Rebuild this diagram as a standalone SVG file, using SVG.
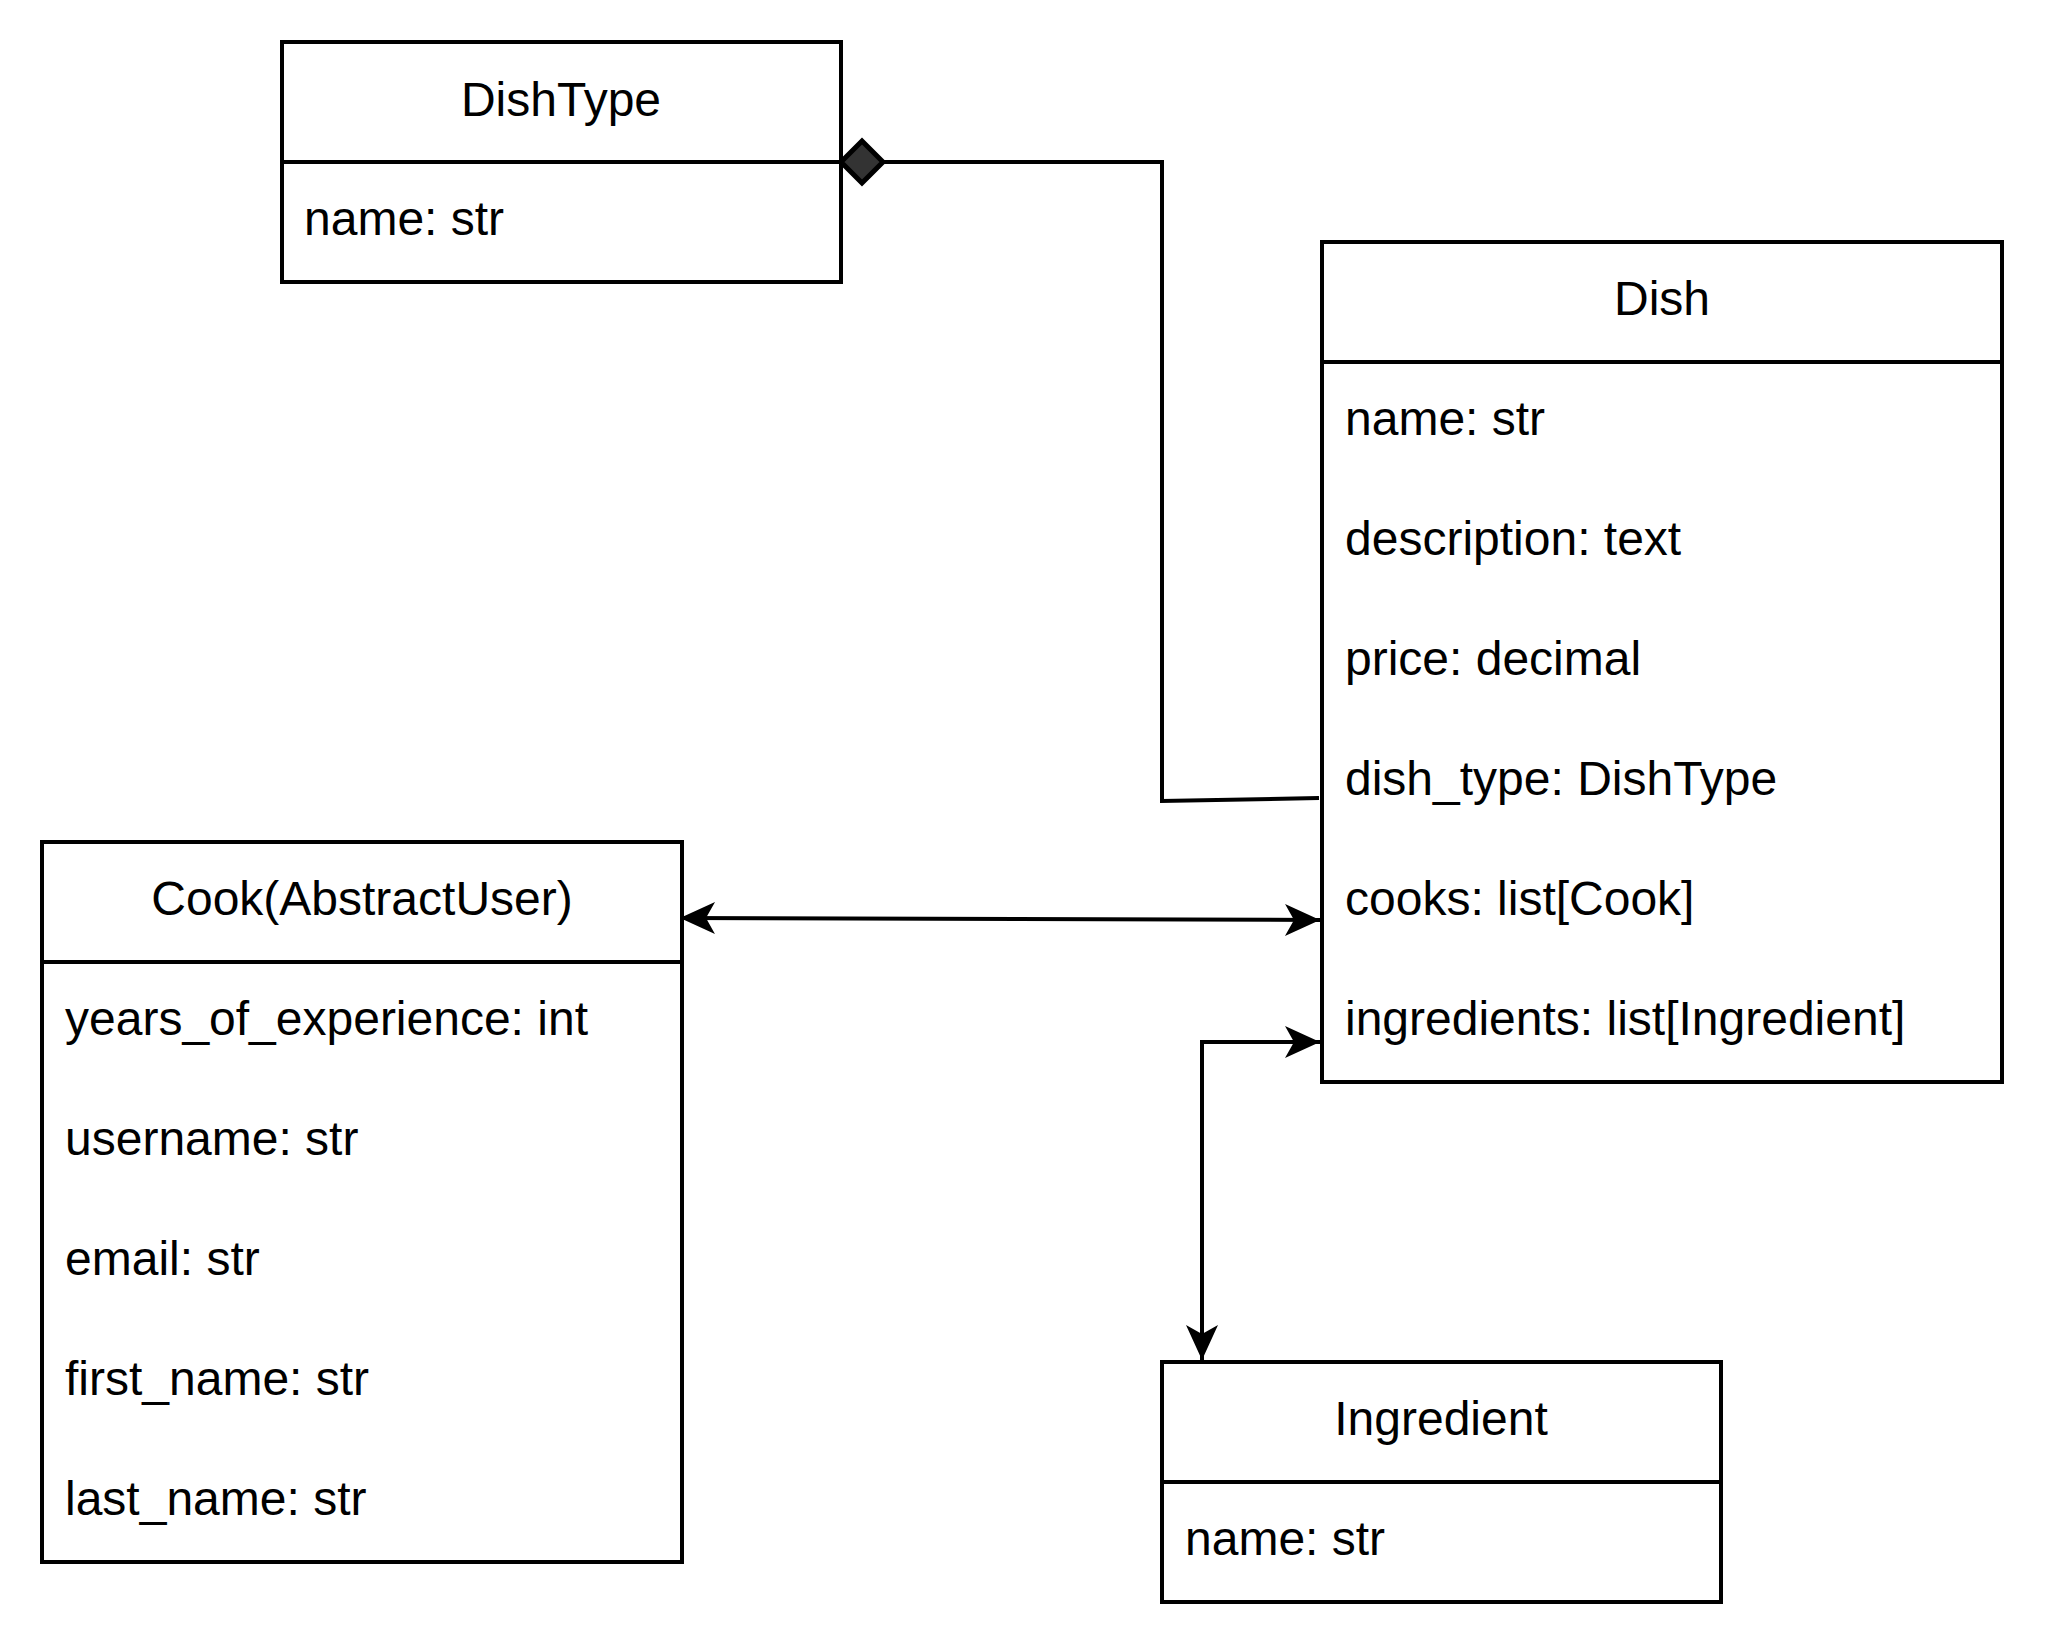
<svg xmlns="http://www.w3.org/2000/svg" width="2048" height="1648" viewBox="0 0 2048 1648">
<style>
.box{fill:#fff;stroke:#000;stroke-width:4}
.sep{stroke:#000;stroke-width:4}
.t{font-family:"Liberation Sans",Arial,sans-serif;font-size:48px;fill:#000;dominant-baseline:central}
.h{text-anchor:middle}
.c{fill:none;stroke:#000;stroke-width:4}
</style>
<defs>
<marker id="arr" markerUnits="userSpaceOnUse" viewBox="-38 -18 40 36" markerWidth="40" markerHeight="36" refX="0" refY="0" orient="auto-start-reverse">
<path d="M0,0 L-35,-16 L-26,0 L-35,16 Z" fill="#000"/>
</marker>
</defs>
<rect width="2048" height="1648" fill="#fff"/>
<g id="connectors">
<path class="c" d="M883,162 L1162,162 L1162,801 L1319,798"/>
<polygon points="841,162 862,141 883,162 862,183" fill="#333" stroke="#000" stroke-width="5"/>
<path class="c" d="M680,918 L1320,920" marker-start="url(#arr)" marker-end="url(#arr)"/>
<path class="c" d="M1320,1042 L1202,1042 L1202,1360" marker-start="url(#arr)" marker-end="url(#arr)"/>
</g>
<g id="DishType">
<rect class="box" x="282" y="42" width="559" height="240"/>
<line class="sep" x1="282" y1="162" x2="841" y2="162"/>
<text class="t h" x="561" y="99">DishType</text>
<text class="t" x="304" y="218">name: str</text>
</g>
<g id="Dish">
<rect class="box" x="1322" y="242" width="680" height="840"/>
<line class="sep" x1="1322" y1="362" x2="2002" y2="362"/>
<text class="t h" x="1662" y="298">Dish</text>
<text class="t" x="1345" y="418">name: str</text>
<text class="t" x="1345" y="538">description: text</text>
<text class="t" x="1345" y="658">price: decimal</text>
<text class="t" x="1345" y="778">dish_type: DishType</text>
<text class="t" x="1345" y="898">cooks: list[Cook]</text>
<text class="t" x="1345" y="1018">ingredients: list[Ingredient]</text>
</g>
<g id="Cook">
<rect class="box" x="42" y="842" width="640" height="720"/>
<line class="sep" x1="42" y1="962" x2="682" y2="962"/>
<text class="t h" x="362" y="898">Cook(AbstractUser)</text>
<text class="t" x="65" y="1018">years_of_experience: int</text>
<text class="t" x="65" y="1138">username: str</text>
<text class="t" x="65" y="1258">email: str</text>
<text class="t" x="65" y="1378">first_name: str</text>
<text class="t" x="65" y="1498">last_name: str</text>
</g>
<g id="Ingredient">
<rect class="box" x="1162" y="1362" width="559" height="240"/>
<line class="sep" x1="1162" y1="1482" x2="1721" y2="1482"/>
<text class="t h" x="1441" y="1418">Ingredient</text>
<text class="t" x="1185" y="1538">name: str</text>
</g>
</svg>
